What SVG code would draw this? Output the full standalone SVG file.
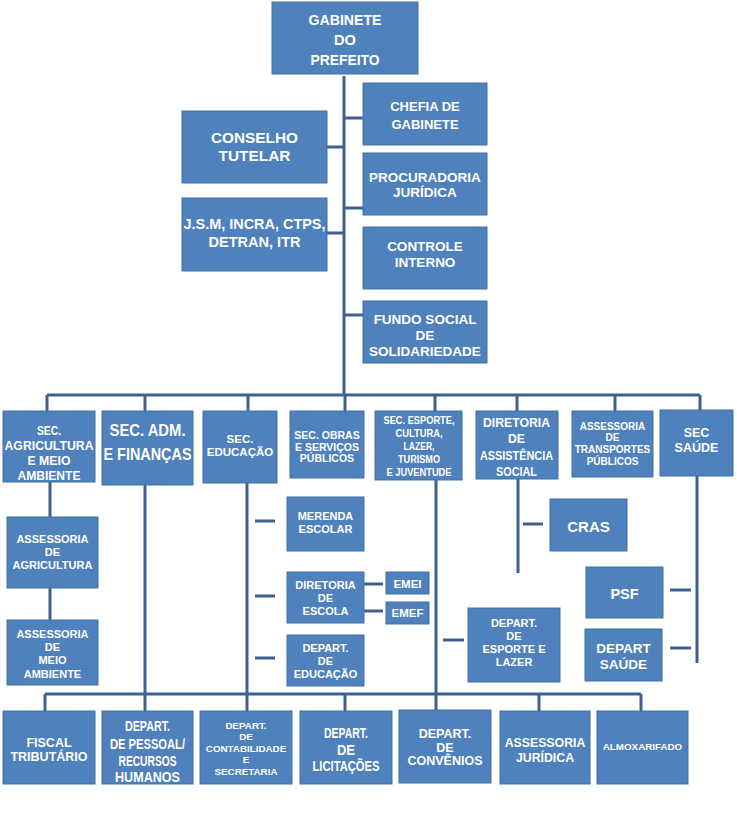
<svg xmlns="http://www.w3.org/2000/svg" width="737" height="816" viewBox="0 0 737 816">
<style>
.b{fill:#4f81bd;stroke:#40709f;stroke-width:1}
.c{stroke:#3f6190;stroke-width:3;fill:none}
text{fill:#fff;font-weight:bold;text-anchor:middle}
.a{font-family:"Liberation Sans",Arial,sans-serif}
.l{font-family:"Liberation Sans",Arial,sans-serif}
</style>
<rect width="737" height="816" fill="#fff"/>
<g id="connectors" class="c">
<path d="M344 76V395M344 118H363M344 147H327M344 208H363M344 233H327M344 315H363"/>
<path d="M47 395H700M47 395V411M145 395V411M248 395V411M345 395V411M435 395V411M517 395V411M615 395V411M700 395V411"/>
<path d="M50 482V517M50 588V620"/>
<path d="M145 485V694M247 483V694M255 521H275M255 596H275M255 658H275M364 584H383M364 611H383"/>
<path d="M436 480V694M443 640H464M518 479V573M523 524H543M697 476V663M670 590H691M670 648H691"/>
<path d="M45 694H641M45 694V711M145 694V711M247 694V711M345 694V711M436 694V710M539 694V711M641 694V711"/>
</g>
<g id="gabinete" class="l" font-size="15.5"><rect class="b" x="272" y="2" width="146" height="72"/>
<text x="345" y="25" textLength="73" lengthAdjust="spacingAndGlyphs">GABINETE</text>
<text x="345" y="45" textLength="22" lengthAdjust="spacingAndGlyphs">DO</text>
<text x="345" y="65" textLength="69" lengthAdjust="spacingAndGlyphs">PREFEITO</text></g>
<g id="chefia"><rect class="b" x="363" y="83" width="124" height="62"/><text class="a" font-size="13"><tspan x="425" y="111">CHEFIA DE</tspan><tspan x="425" y="129">GABINETE</tspan></text></g>
<g id="conselho" class="l" font-size="15.5"><rect class="b" x="182" y="111" width="145" height="72"/>
<text x="254.5" y="143" textLength="87" lengthAdjust="spacingAndGlyphs">CONSELHO</text>
<text x="254.5" y="161" textLength="72" lengthAdjust="spacingAndGlyphs">TUTELAR</text></g>
<g id="procuradoria"><rect class="b" x="363" y="153" width="124" height="62"/><text class="a" font-size="13.5"><tspan x="425" y="182">PROCURADORIA</tspan><tspan x="425" y="197">JURÍDICA</tspan></text></g>
<g id="jsm" class="l" font-size="15.5"><rect class="b" x="182" y="198" width="145" height="73"/>
<text x="254.5" y="229" textLength="142" lengthAdjust="spacingAndGlyphs">J.S.M, INCRA, CTPS,</text>
<text x="254.5" y="247" textLength="92" lengthAdjust="spacingAndGlyphs">DETRAN, ITR</text></g>
<g id="controle"><rect class="b" x="363" y="227" width="124" height="62"/><text class="a" font-size="13.5"><tspan x="425" y="251">CONTROLE</tspan><tspan x="425" y="267">INTERNO</tspan></text></g>
<g id="fundo"><rect class="b" x="363" y="301" width="124" height="62"/><text class="a" font-size="13.5"><tspan x="425" y="324">FUNDO SOCIAL</tspan><tspan x="425" y="340">DE</tspan><tspan x="425" y="356">SOLIDARIEDADE</tspan></text></g>
<g id="sec-agricultura" class="l" font-size="13"><rect class="b" x="3" y="411" width="92" height="71"/>
<text x="49" y="435" textLength="24" lengthAdjust="spacingAndGlyphs">SEC.</text>
<text x="49" y="450" textLength="89" lengthAdjust="spacingAndGlyphs">AGRICULTURA</text>
<text x="49" y="465" textLength="43" lengthAdjust="spacingAndGlyphs">E MEIO</text>
<text x="49" y="480" textLength="63" lengthAdjust="spacingAndGlyphs">AMBIENTE</text></g>
<g id="sec-adm" class="l" font-size="17"><rect class="b" x="102" y="411" width="91" height="74"/>
<text x="147.5" y="436" textLength="76" lengthAdjust="spacingAndGlyphs">SEC. ADM.</text>
<text x="147.5" y="460" textLength="88" lengthAdjust="spacingAndGlyphs">E FINANÇAS</text></g>
<g id="sec-educacao"><rect class="b" x="203" y="411" width="74" height="72"/><text class="a" font-size="11.5"><tspan x="240" y="443">SEC.</tspan><tspan x="240" y="456">EDUCAÇÃO</tspan></text></g>
<g id="sec-obras"><rect class="b" x="290" y="411" width="74" height="67"/><text class="a" font-size="10.5"><tspan x="327" y="439">SEC. OBRAS</tspan><tspan x="327" y="451">E SERVIÇOS</tspan><tspan x="327" y="462">PÚBLICOS</tspan></text></g>
<g id="sec-esporte" class="l" font-size="11.5"><rect class="b" x="375" y="411" width="87" height="69"/>
<text x="419" y="424" textLength="71" lengthAdjust="spacingAndGlyphs">SEC. ESPORTE,</text>
<text x="419" y="437" textLength="47" lengthAdjust="spacingAndGlyphs">CULTURA,</text>
<text x="419" y="450" textLength="31" lengthAdjust="spacingAndGlyphs">LAZER,</text>
<text x="419" y="463" textLength="42" lengthAdjust="spacingAndGlyphs">TURISMO</text>
<text x="419" y="476" textLength="65" lengthAdjust="spacingAndGlyphs">E JUVENTUDE</text></g>
<g id="diretoria-assistencia" class="l" font-size="13.5"><rect class="b" x="476" y="411" width="82" height="68"/>
<text x="516.5" y="427" textLength="67" lengthAdjust="spacingAndGlyphs">DIRETORIA</text>
<text x="516.5" y="443" textLength="17" lengthAdjust="spacingAndGlyphs">DE</text>
<text x="516.5" y="460" textLength="73" lengthAdjust="spacingAndGlyphs">ASSISTÊNCIA</text>
<text x="516.5" y="476" textLength="41" lengthAdjust="spacingAndGlyphs">SOCIAL</text></g>
<g id="assessoria-transportes"><rect class="b" x="572" y="411" width="81" height="66"/><text class="a" font-size="10"><tspan x="612.5" y="430">ASSESSORIA</tspan><tspan x="612.5" y="441">DE</tspan><tspan x="612.5" y="453">TRANSPORTES</tspan><tspan x="612.5" y="465">PÚBLICOS</tspan></text></g>
<g id="sec-saude"><rect class="b" x="660" y="410" width="73" height="66"/><text class="a" font-size="12.5"><tspan x="696.5" y="437">SEC</tspan><tspan x="696.5" y="452">SAÚDE</tspan></text></g>
<g id="assessoria-agricultura"><rect class="b" x="7" y="517" width="91" height="71"/><text class="a" font-size="11"><tspan x="52.5" y="543">ASSESSORIA</tspan><tspan x="52.5" y="556">DE</tspan><tspan x="52.5" y="569">AGRICULTURA</tspan></text></g>
<g id="assessoria-meio"><rect class="b" x="7" y="620" width="91" height="65"/><text class="a" font-size="11"><tspan x="52.5" y="638">ASSESSORIA</tspan><tspan x="52.5" y="651">DE</tspan><tspan x="52.5" y="664">MEIO</tspan><tspan x="52.5" y="678">AMBIENTE</tspan></text></g>
<g id="merenda"><rect class="b" x="287" y="497" width="77" height="54"/><text class="a" font-size="11"><tspan x="325.5" y="520">MERENDA</tspan><tspan x="325.5" y="533">ESCOLAR</tspan></text></g>
<g id="diretoria-escola"><rect class="b" x="287" y="572" width="77" height="51"/><text class="a" font-size="11"><tspan x="325.5" y="589">DIRETORIA</tspan><tspan x="325.5" y="602">DE</tspan><tspan x="325.5" y="615">ESCOLA</tspan></text></g>
<g id="depart-educacao"><rect class="b" x="287" y="635" width="77" height="51"/><text class="a" font-size="11"><tspan x="325.5" y="652">DEPART.</tspan><tspan x="325.5" y="665">DE</tspan><tspan x="325.5" y="678">EDUCAÇÃO</tspan></text></g>
<g id="emei"><rect class="b" x="386" y="572" width="43" height="22"/><text class="a" font-size="11.5" x="407.5" y="588">EMEI</text></g>
<g id="emef"><rect class="b" x="386" y="602" width="43" height="22"/><text class="a" font-size="11.5" x="407.5" y="617">EMEF</text></g>
<g id="cras"><rect class="b" x="550" y="499" width="77" height="52"/><text class="a" font-size="15" x="588.5" y="532">CRAS</text></g>
<g id="depart-esporte"><rect class="b" x="468" y="608" width="92" height="74"/><text class="a" font-size="11"><tspan x="514" y="627">DEPART.</tspan><tspan x="514" y="640">DE</tspan><tspan x="514" y="653">ESPORTE E</tspan><tspan x="514" y="666">LAZER</tspan></text></g>
<g id="psf"><rect class="b" x="586" y="567" width="77" height="51"/><text class="a" font-size="14.5" x="624.5" y="599">PSF</text></g>
<g id="depart-saude"><rect class="b" x="585" y="629" width="77" height="52"/><text class="a" font-size="13.5"><tspan x="623.5" y="653">DEPART</tspan><tspan x="623.5" y="669">SAÚDE</tspan></text></g>
<g id="fiscal"><rect class="b" x="3" y="711" width="92" height="73"/><text class="a" font-size="12.5"><tspan x="49" y="747">FISCAL</tspan><tspan x="49" y="761">TRIBUTÁRIO</tspan></text></g>
<g id="depart-pessoal" class="l" font-size="14.5"><rect class="b" x="102" y="711" width="91" height="73"/>
<text x="147.5" y="731" textLength="45" lengthAdjust="spacingAndGlyphs">DEPART.</text>
<text x="147.5" y="749" textLength="75" lengthAdjust="spacingAndGlyphs">DE PESSOAL/</text>
<text x="147.5" y="766" textLength="58" lengthAdjust="spacingAndGlyphs">RECURSOS</text>
<text x="147.5" y="782" textLength="65" lengthAdjust="spacingAndGlyphs">HUMANOS</text></g>
<g id="depart-contabilidade"><rect class="b" x="200" y="711" width="92" height="73"/><text class="a" font-size="9.8"><tspan x="246" y="729">DEPART.</tspan><tspan x="246" y="740">DE</tspan><tspan x="246" y="752">CONTABILIDADE</tspan><tspan x="246" y="763">E</tspan><tspan x="246" y="775">SECRETARIA</tspan></text></g>
<g id="depart-licitacoes" class="l" font-size="14"><rect class="b" x="300" y="711" width="92" height="73"/>
<text x="346" y="738" textLength="44" lengthAdjust="spacingAndGlyphs">DEPART.</text>
<text x="346" y="755" textLength="18" lengthAdjust="spacingAndGlyphs">DE</text>
<text x="346" y="771" textLength="67" lengthAdjust="spacingAndGlyphs">LICITAÇÕES</text></g>
<g id="depart-convenios"><rect class="b" x="399" y="710" width="92" height="73"/><text class="a" font-size="12.5"><tspan x="445" y="738">DEPART.</tspan><tspan x="445" y="752">DE</tspan><tspan x="445" y="765">CONVÊNIOS</tspan></text></g>
<g id="assessoria-juridica"><rect class="b" x="500" y="711" width="90" height="73"/><text class="a" font-size="12.3"><tspan x="545" y="747">ASSESSORIA</tspan><tspan x="545" y="762">JURÍDICA</tspan></text></g>
<g id="almoxarifado"><rect class="b" x="597" y="711" width="91" height="73"/><text class="a" font-size="9.8" x="642.5" y="750">ALMOXARIFADO</text></g>
</svg>
